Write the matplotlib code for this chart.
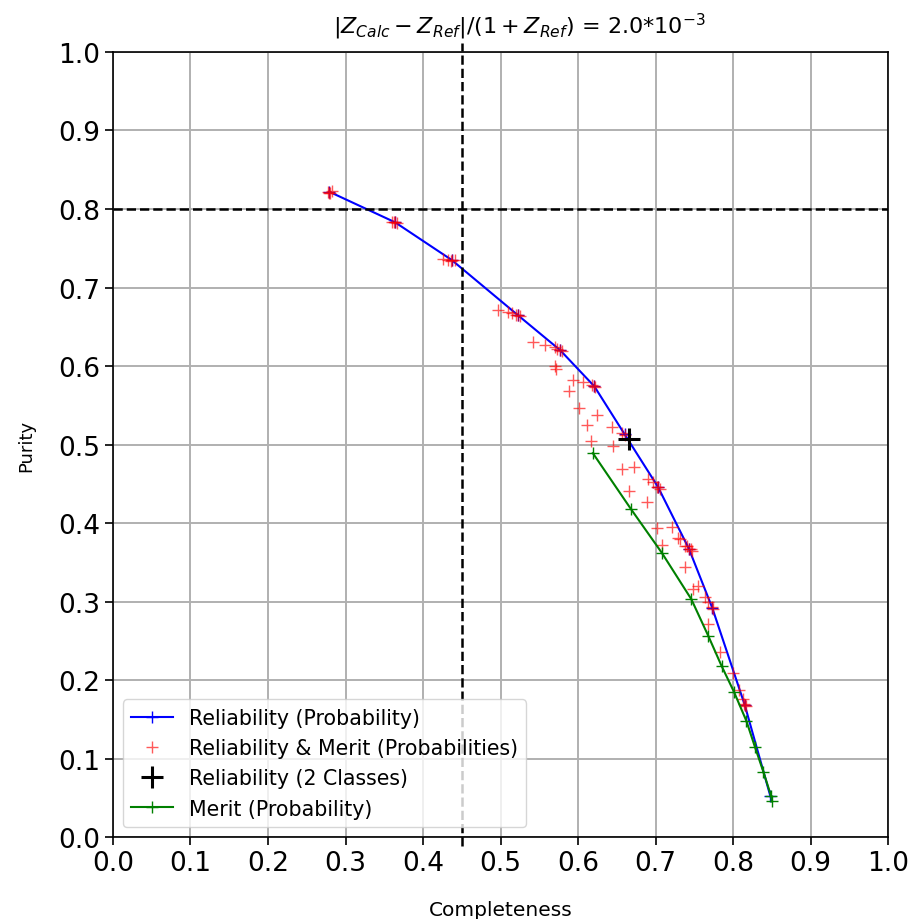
import matplotlib
matplotlib.use("Agg")
import matplotlib.pyplot as plt
import numpy as np

# Reliability (probability) curve
rel_comp = [0.279, 0.364, 0.437, 0.522, 0.577, 0.621, 0.660, 0.703, 0.743, 0.773, 0.815, 0.848]
rel_pur = [0.822, 0.783, 0.735, 0.665, 0.620, 0.574, 0.513, 0.446, 0.367, 0.292, 0.168, 0.052]

# Merit (probability) curve
mer_comp = [0.619, 0.668, 0.708, 0.746, 0.768, 0.785, 0.801, 0.817, 0.828, 0.839, 0.849, 0.850]
mer_pur = [0.489, 0.418, 0.362, 0.303, 0.256, 0.218, 0.185, 0.148, 0.115, 0.083, 0.052, 0.046]

# Reliability & Merit combined probabilities
rm_comp = [0.277, 0.279, 0.280, 0.282, 0.360, 0.363, 0.364, 0.366, 0.426, 0.432, 0.436, 0.437, 0.441,
           0.497, 0.510, 0.515, 0.520, 0.522, 0.525, 0.542, 0.557, 0.570, 0.573, 0.577, 0.579,
           0.572, 0.570, 0.594, 0.606, 0.618, 0.621, 0.622, 0.588, 0.601, 0.624, 0.611,
           0.644, 0.657, 0.661, 0.617, 0.645, 0.657, 0.672, 0.690, 0.697, 0.702, 0.703,
           0.706, 0.666, 0.689, 0.702, 0.721, 0.708, 0.729, 0.732, 0.738, 0.741, 0.743,
           0.745, 0.747, 0.738, 0.748, 0.755, 0.764, 0.768, 0.773, 0.774, 0.768,
           0.783, 0.800, 0.808, 0.813, 0.814, 0.815, 0.817]
rm_pur = [0.822, 0.821, 0.820, 0.823, 0.783, 0.784, 0.783, 0.782, 0.736, 0.735, 0.734, 0.735, 0.735,
          0.671, 0.669, 0.668, 0.665, 0.665, 0.664, 0.631, 0.627, 0.624, 0.622, 0.620, 0.619,
          0.596, 0.600, 0.582, 0.580, 0.576, 0.574, 0.573, 0.568, 0.546, 0.538, 0.525,
          0.522, 0.515, 0.512, 0.504, 0.498, 0.469, 0.471, 0.456, 0.452, 0.446, 0.446,
          0.443, 0.441, 0.427, 0.394, 0.395, 0.372, 0.381, 0.380, 0.371, 0.371, 0.367,
          0.367, 0.364, 0.344, 0.316, 0.320, 0.306, 0.299, 0.293, 0.290, 0.271,
          0.236, 0.209, 0.187, 0.176, 0.169, 0.168, 0.167]

# Reliability with 2 classes
two_comp = [0.666]
two_pur = [0.507]

comp_cut = 0.45
pur_cut = 0.8
ticks = np.round(np.arange(0, 1.01, 0.1), 1)

fig = plt.figure(figsize=(9.11, 9.2), dpi=100)
ax = fig.add_axes([0.124, 0.0891, 0.851, 0.8533])

ax.plot(rel_comp, rel_pur, color="blue", marker="+", markersize=9, lw=1.5,
        label="Reliability (Probability)")
ax.plot(rm_comp, rm_pur, "r+", markersize=9, alpha=0.65,
        label="Reliability & Merit (Probabilities)")
ax.plot(two_comp, two_pur, "k+", markersize=16, mew=2.2,
        label="Reliability (2 Classes)")
ax.plot(mer_comp, mer_pur, color="green", marker="+", markersize=9, lw=1.5,
        label="Merit (Probability)")

ax.axhline(pur_cut, color="black", ls="--", lw=1.8)
ax.plot([comp_cut, comp_cut], [-0.012, 1.012], color="black", ls="--", lw=1.8,
        clip_on=False)

ax.set_xlim(0, 1)
ax.set_ylim(0, 1)
ax.set_xticks(ticks)
ax.set_yticks(ticks)
ax.tick_params(labelsize=19, length=6, width=1.2)
for s in ax.spines.values():
    s.set_linewidth(1.2)
ax.grid(True, color="#b0b0b0", lw=1.4)
ax.set_axisbelow(True)

ax.set_xlabel("Completeness", fontsize=14.5, labelpad=17)
ax.set_ylabel("Purity", fontsize=13, labelpad=16)
ax.set_title(r"$|Z_{Calc} - Z_{Ref}|/(1 + Z_{Ref})$ = 2.0*10$^{-3}$", fontsize=16,
             pad=14, x=0.524)
ax.legend(loc="lower left", fontsize=14.8)

fig.savefig("out.png", dpi=100)
